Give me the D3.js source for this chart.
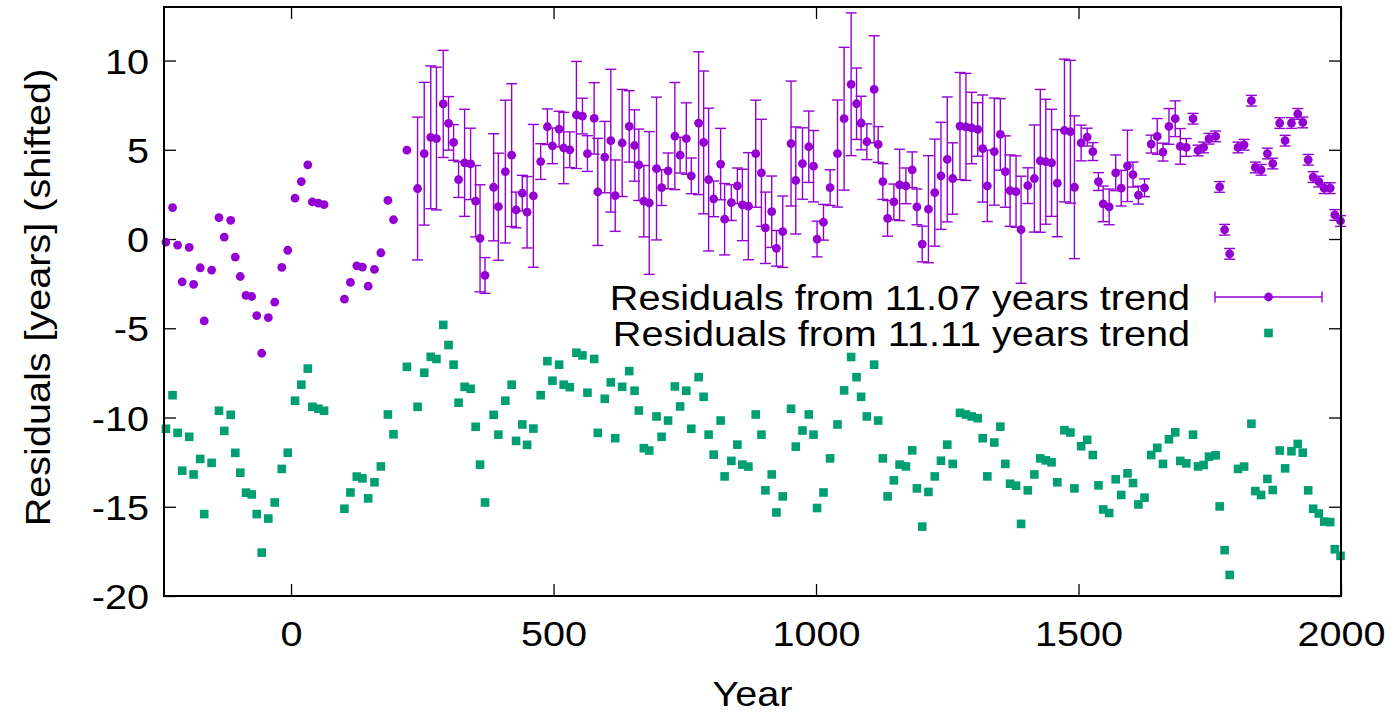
<!DOCTYPE html>
<html><head><meta charset="utf-8">
<script src="https://cdn.jsdelivr.net/npm/d3@7"></script>
<style>body{margin:0;background:#fff;} text{font-family:"Liberation Sans",Arial,sans-serif;}</style>
</head><body>
<svg id="chart" width="1394" height="713"></svg>
<script>
const years = [-238.4,-225.7,-216.1,-207.4,-194.0,-185.6,-173.0,-165.4,-151.3,-137.3,-127.2,-115.0,-106.2,-96.7,-85.8,-75.0,-65.4,-55.9,-43.3,-31.1,-17.7,-6.3,7.6,19.6,31.9,40.6,52.1,62.9,101.7,113.1,125.3,136.0,146.9,158.9,171.1,184.5,195.1,220.7,241.0,253.7,266.1,277.0,289.9,300.0,309.6,319.1,330.6,342.0,351.6,360.0,369.5,385.9,394.9,408.2,420.2,428.6,440.6,449.6,461.6,475.5,488.3,497.9,510.6,519.4,530.9,543.6,555.1,564.6,577.4,584.3,597.6,609.1,617.5,630.8,644.2,654.3,662.5,672.0,682.3,696.2,705.8,718.2,731.1,741.1,752.9,762.4,776.4,785.9,795.4,805.0,818.3,825.9,838.7,850.2,859.7,871.2,885.1,896.0,903.6,915.6,924.6,936.6,952.4,961.4,974.2,986.2,995.2,1002.0,1014.2,1026.8,1040.9,1053.5,1066.9,1077.2,1085.9,1096.8,1110.7,1118.4,1127.3,1136.3,1148.3,1159.2,1171.2,1183.2,1192.2,1202.3,1214.1,1226.2,1238.0,1250.0,1260.3,1274.2,1285.6,1296.5,1308.0,1317.5,1326.3,1339.6,1351.1,1360.6,1369.6,1381.0,1390.6,1403.4,1415.9,1427.2,1437.7,1448.7,1459.6,1473.2,1484.6,1492.2,1505.0,1516.5,1527.3,1538.0,1547.0,1558.4,1570.8,1581.3,1593.3,1603.8,1614.1,1625.8,1638.5,1650.0,1660.9,1672.3,1684.3,1693.9,1705.3,1718.1,1727.6,1738.3,1748.6,1761.2,1768.8,1778.3,1787.9,1803.9,1815.4,1829.3,1836.9,1847.8,1859.8,1869.9,1883.3,1893.6,1905.6,1917.6,1927.2,1937.5,1947.0,1957.7,1968.0,1979.4,1988.2,1999.1];

const resid1107 = [-0.17,1.76,-0.34,-2.40,-0.47,-2.54,-1.61,-4.59,-1.74,1.20,0.11,1.05,-1.01,-2.10,-3.16,-3.22,-4.29,-6.40,-4.40,-3.54,-1.59,-0.63,2.29,3.22,4.16,2.08,2.01,1.93,-3.37,-2.43,-1.50,-1.57,-2.64,-1.70,-0.77,2.17,1.08,4.98,2.83,4.78,5.70,5.63,7.57,6.48,5.41,3.33,4.27,4.21,2.12,0.04,-2.04,2.90,1.81,3.78,4.70,1.63,2.57,1.50,2.42,4.34,6.29,5.22,6.16,5.10,5.00,6.95,6.89,4.79,6.76,2.64,4.59,5.51,2.43,5.38,6.31,5.24,4.16,2.12,2.02,3.95,2.88,3.82,5.77,4.70,5.63,3.54,6.49,5.41,3.33,2.25,4.20,1.11,2.04,2.98,1.91,1.84,4.78,3.71,0.63,1.53,-0.52,0.41,5.35,3.28,4.23,5.17,4.08,0.00,0.94,2.88,4.79,6.74,8.67,7.58,6.50,5.45,8.39,5.30,3.22,1.16,2.08,3.03,2.98,3.88,1.80,-0.28,1.67,2.60,3.54,4.46,3.39,6.33,6.28,6.22,6.14,5.07,2.98,4.90,5.86,3.78,2.71,2.66,0.52,2.99,3.39,4.38,4.33,4.27,3.13,6.08,6.01,2.90,5.38,5.71,4.90,3.22,1.97,1.80,3.71,2.85,4.10,3.61,2.46,2.87,5.32,5.75,4.87,6.31,6.74,5.19,5.13,6.74,4.96,5.13,5.62,5.75,2.92,0.52,-0.83,5.13,5.28,7.75,4.01,3.88,4.79,4.23,6.50,5.51,6.50,7.01,6.53,4.44,3.47,3.22,2.85,2.85,1.35,1.01];

const err1107 = [0,0,0,0,0,0,0,0,0,0,0,0,0,0,0,0,0,0,0,0,0,0,0,0,0,0,0,0,0,0,0,0,0,0,0,0,0,0,
4,4,4,4,3,1.5,1,1,3,2,2,3,1,3,3,4,4,1,1,2,4,1,1,1,1,2,1,3,1,1,2,3,2,4,2,3,2,2,2,2,4,4,1,1,3,1,2,1,4,4,4,1,2,2,1,1,2,3,3,3,2,2,1,2,3.5,3,2,2,2,1,1,1,3,4,4,2,1.5,1,3,1,1,1,1,2,1,1,1,1,3,3,3,3.5,2,3,3,2,1.5,3,2,3,2,2,2,2,3,1,3,4,3.5,3,3,4,4,4,1,0.5,0.5,0.5,1,1,1,1,2,0.7,0.5,0.5,0.5,1,0.5,1,1,1,0.5,
0.3,0.3,0.3,0.3,0.3,0.3,0.3,0.3,0.3,0.3,0.3,0.3,0.3,0.3,0.3,0.3,0.3,0.3,0.3,0.3,0.3,0.3,0.3,0.3,0.3,0.3,0.3];

const resid1111 = [-10.63,-8.75,-10.86,-12.98,-11.08,-13.19,-12.32,-15.41,-12.54,-9.62,-10.75,-9.85,-11.98,-13.09,-14.21,-14.31,-15.41,-17.57,-15.66,-14.76,-12.88,-11.97,-9.06,-8.16,-7.26,-9.40,-9.51,-9.62,-15.11,-14.20,-13.31,-13.41,-14.53,-13.63,-12.74,-9.83,-10.94,-7.16,-9.40,-7.49,-6.60,-6.72,-4.81,-5.94,-7.04,-9.17,-8.28,-8.39,-10.52,-12.64,-14.76,-9.85,-10.96,-9.06,-8.16,-11.31,-10.39,-11.53,-10.62,-8.75,-6.84,-7.94,-7.04,-8.16,-8.30,-6.37,-6.52,-8.61,-6.72,-10.86,-8.95,-8.03,-11.16,-8.28,-7.40,-8.50,-9.61,-11.72,-11.85,-9.94,-11.08,-10.17,-8.26,-9.38,-8.50,-10.63,-7.74,-8.84,-10.96,-12.08,-10.17,-13.30,-12.43,-11.52,-12.64,-12.75,-9.83,-10.96,-14.08,-13.19,-15.32,-14.42,-9.51,-11.63,-10.73,-9.83,-10.96,-15.07,-14.20,-12.29,-10.39,-8.48,-6.61,-7.74,-8.84,-9.94,-7.04,-10.17,-12.29,-14.42,-13.52,-12.64,-12.74,-11.84,-13.97,-16.11,-14.17,-13.30,-12.42,-11.52,-12.60,-9.74,-9.83,-9.94,-10.04,-11.16,-13.30,-11.40,-10.51,-12.60,-13.71,-13.82,-15.96,-14.08,-13.19,-12.29,-12.40,-12.51,-13.63,-10.71,-10.84,-13.97,-11.61,-11.25,-12.10,-13.80,-15.15,-15.35,-13.46,-14.34,-13.13,-13.67,-14.87,-14.49,-12.10,-11.70,-12.60,-11.22,-10.83,-12.43,-12.57,-10.96,-12.74,-12.66,-12.19,-12.12,-14.98,-17.43,-18.82,-12.88,-12.75,-10.35,-14.12,-14.34,-13.44,-14.06,-11.85,-12.85,-11.89,-11.48,-11.97,-14.08,-15.11,-15.38,-15.83,-15.86,-17.38,-17.75];

const xTicks = [0, 500, 1000, 1500, 2000];
const yTicks = [-20, -15, -10, -5, 0, 5, 10];
const seriesLabels = ["Residuals from 11.07 years trend", "Residuals from 11.11 years trend"];
const xTitle = "Year";
const yTitle = "Residuals [years] (shifted)";

const purple = "#9400d3", green = "#009e73";
const L = 164, R = 1341, T = 7, B = 596;
const SX = 1.1; // horizontal stretch of the reference font
const svg = d3.select("#chart");
const x = d3.scaleLinear().domain([-242, 2000]).range([L, R]);
const y = d3.scaleLinear().domain([-20, 13]).range([B, T]);

const n = Math.min(years.length, resid1107.length, err1107.length, resid1111.length);
const d1 = d3.range(n).map(i => ({x: years[i], y: resid1107[i], e: err1107[i]}));
const d2 = d3.range(n).map(i => ({x: years[i], y: resid1111[i]}));

const fs = 36;
const fmt = d => String(d); // plain hyphen minus like the reference
const xAxisB = d3.axisBottom(x).tickValues(xTicks).tickSize(-12).tickPadding(24).tickFormat(fmt);
const xAxisT = d3.axisTop(x).tickValues(xTicks).tickSize(-12).tickFormat("");
const yAxisL = d3.axisLeft(y).tickValues(yTicks).tickSize(-12).tickPadding(0).tickFormat(fmt);
const yAxisR = d3.axisRight(y).tickValues(yTicks).tickSize(-12).tickFormat("");

function style(g){ g.select(".domain").remove(); g.selectAll("line").attr("stroke","#000").attr("stroke-width",1.3);
  g.selectAll("text").attr("font-size",fs).attr("fill","#000"); }
svg.append("g").attr("transform",`translate(0,${B})`).call(xAxisB).call(style)
  .selectAll("text").attr("dy","0.71em").attr("transform",`scale(${SX},1)`);
svg.append("g").attr("transform",`translate(0,${T})`).call(xAxisT).call(style);
svg.append("g").attr("transform",`translate(${L},0)`).call(yAxisL).call(style)
  .selectAll("text").attr("x", 0).attr("dy","0.35em").attr("transform",`translate(-15,0) scale(${SX},1)`);
svg.append("g").attr("transform",`translate(${R},0)`).call(yAxisR).call(style);

// error bars
const eb = svg.append("g").attr("stroke", purple).attr("stroke-width", 1.4).attr("fill","none");
const cap = 5.5;
d1.filter(d => d.e > 0).forEach(d => {
  const cx = x(d.x), y0 = y(d.y - d.e), y1 = y(d.y + d.e);
  eb.append("line").attr("x1",cx).attr("x2",cx).attr("y1",y0).attr("y2",y1);
  eb.append("line").attr("x1",cx-cap).attr("x2",cx+cap).attr("y1",y0).attr("y2",y0);
  eb.append("line").attr("x1",cx-cap).attr("x2",cx+cap).attr("y1",y1).attr("y2",y1);
});
svg.append("g").selectAll("circle").data(d1).join("circle")
  .attr("cx", d => x(d.x)).attr("cy", d => y(d.y)).attr("r", 4.4).attr("fill", purple);
const sq = 8.6;
svg.append("g").selectAll("rect").data(d2).join("rect")
  .attr("x", d => x(d.x) - sq/2).attr("y", d => y(d.y) - sq/2).attr("width", sq).attr("height", sq).attr("fill", green);

// frame
svg.append("rect").attr("x",L).attr("y",T).attr("width",R-L).attr("height",B-T)
  .attr("fill","none").attr("stroke","#000").attr("stroke-width",2);

// legend
const lg = svg.append("g");
const lx = 1190, ly1 = 297, ly2 = 333;
[ly1, ly2].forEach((ly, i) => {
  lg.append("text").attr("transform",`translate(${lx},${ly}) scale(${SX},1)`).attr("dy","0.35em")
    .attr("text-anchor","end").attr("font-size",fs).text(seriesLabels[i]);
});
const sx0 = 1215, sx1 = 1322, smid = (sx0+sx1)/2;
lg.append("line").attr("x1",sx0).attr("x2",sx1).attr("y1",ly1).attr("y2",ly1).attr("stroke",purple).attr("stroke-width",1.4);
[sx0, sx1].forEach(v => lg.append("line").attr("x1",v).attr("x2",v).attr("y1",ly1-5.5).attr("y2",ly1+5.5).attr("stroke",purple).attr("stroke-width",1.4));
lg.append("circle").attr("cx",smid).attr("cy",ly1).attr("r",4.4).attr("fill",purple);
lg.append("rect").attr("x",smid-sq/2).attr("y",ly2-sq/2).attr("width",sq).attr("height",sq).attr("fill",green);

// titles
svg.append("text").attr("transform",`translate(${(L+R)/2},706) scale(${SX},1)`).attr("text-anchor","middle").attr("font-size",fs).text(xTitle);
svg.append("text").attr("transform",`translate(50,${(T+B)/2 - 4}) rotate(-90) scale(${SX},1)`).attr("text-anchor","middle").attr("font-size",fs).text(yTitle);
</script>
</body></html>
